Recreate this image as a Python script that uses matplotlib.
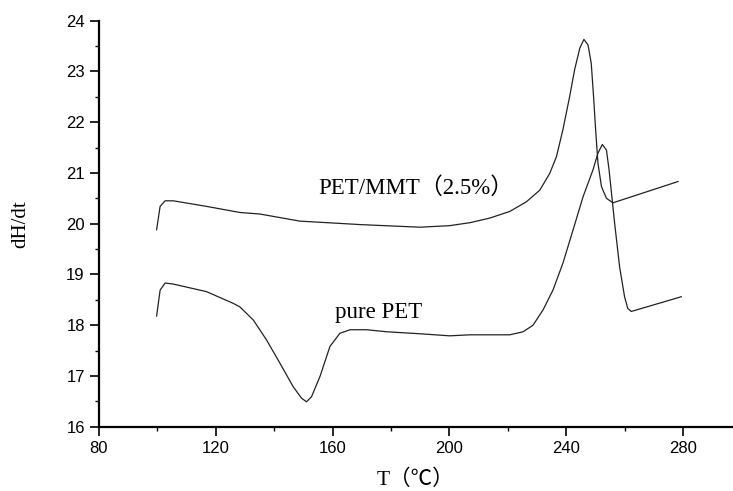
import matplotlib.pyplot as plt
from matplotlib.ticker import MultipleLocator

# curva PET/MMT (2.5%)
t_mmt = [99.8, 101.0, 102.7, 105.5, 116.9, 128.3, 135.1, 148.8, 170.0, 189.9,
         200.0, 207.1, 213.8, 220.6, 226.3, 230.9, 234.3, 236.6, 238.8, 241.1,
         242.8, 244.6, 246.0, 247.4, 248.5, 249.3, 250.0, 250.8, 252.0, 253.7,
         255.9, 278.2]
y_mmt = [19.88, 20.34, 20.45, 20.45, 20.34, 20.22, 20.19, 20.05, 19.98, 19.93,
         19.96, 20.02, 20.11, 20.24, 20.43, 20.66, 20.99, 21.32, 21.85, 22.50,
         23.03, 23.46, 23.63, 23.52, 23.16, 22.50, 21.85, 21.19, 20.73, 20.50,
         20.41, 20.83]

# curva PET puro
t_pet = [99.8, 101.0, 102.7, 105.5, 116.9, 126.0, 128.3, 132.9, 137.4, 142.0,
         146.5, 149.4, 151.1, 152.8, 155.7, 159.1, 162.5, 166.0, 171.6, 178.5,
         190.0, 200.1, 207.0, 220.6, 225.2, 228.6, 232.0, 235.4, 238.8, 242.3,
         245.7, 249.1, 250.8, 252.3, 253.7, 254.6, 256.5, 258.2, 259.9, 261.0,
         262.2, 279.3]
y_pet = [18.18, 18.69, 18.83, 18.81, 18.66, 18.43, 18.36, 18.10, 17.71, 17.25,
         16.79, 16.56, 16.49, 16.59, 16.99, 17.58, 17.84, 17.91, 17.91, 17.87,
         17.83, 17.79, 17.81, 17.81, 17.87, 18.00, 18.30, 18.69, 19.22, 19.88,
         20.53, 21.06, 21.39, 21.56, 21.45, 21.06, 20.01, 19.15, 18.56, 18.33,
         18.27, 18.56]

xticks = [80, 120, 160, 200, 240, 280]
yticks = [16, 17, 18, 19, 20, 21, 22, 23, 24]

plt.rcParams['font.family'] = 'Liberation Sans'
serif = ['Liberation Serif', 'Noto Sans CJK SC', 'DejaVu Sans']

fig = plt.figure(figsize=(7.33, 4.91), dpi=100)
ax = fig.add_axes([0.1347, 0.131, 0.8653, 0.827])

ax.plot(t_mmt, y_mmt, color='#222222', lw=0.9)
ax.plot(t_pet, y_pet, color='#222222', lw=0.9)

ax.text(155, 20.7, 'PET/MMT（2.5%）', family=serif, fontsize=16.5, va='center')
ax.text(160.8, 18.24, 'pure PET', family=serif, fontsize=16.5, va='center')

ax.set_xlim(80, 297)
ax.set_ylim(16, 24)
ax.set_xticks(xticks)
ax.set_yticks(yticks)
ax.xaxis.set_minor_locator(MultipleLocator(20))
ax.yaxis.set_minor_locator(MultipleLocator(0.5))

ax.spines['top'].set_visible(False)
ax.spines['right'].set_visible(False)
ax.spines['left'].set_linewidth(1.6)
ax.spines['bottom'].set_linewidth(1.6)
ax.tick_params(which='major', direction='out', length=6.5, width=1.2,
               labelsize=12)
ax.tick_params(which='minor', direction='out', length=3, width=1.0)

ax.set_xlabel('T（℃）', family=serif, fontsize=15.5, labelpad=10)
ax.set_ylabel('dH/dt', family=serif, fontsize=15, labelpad=26)

fig.savefig('out.png', dpi=100)
